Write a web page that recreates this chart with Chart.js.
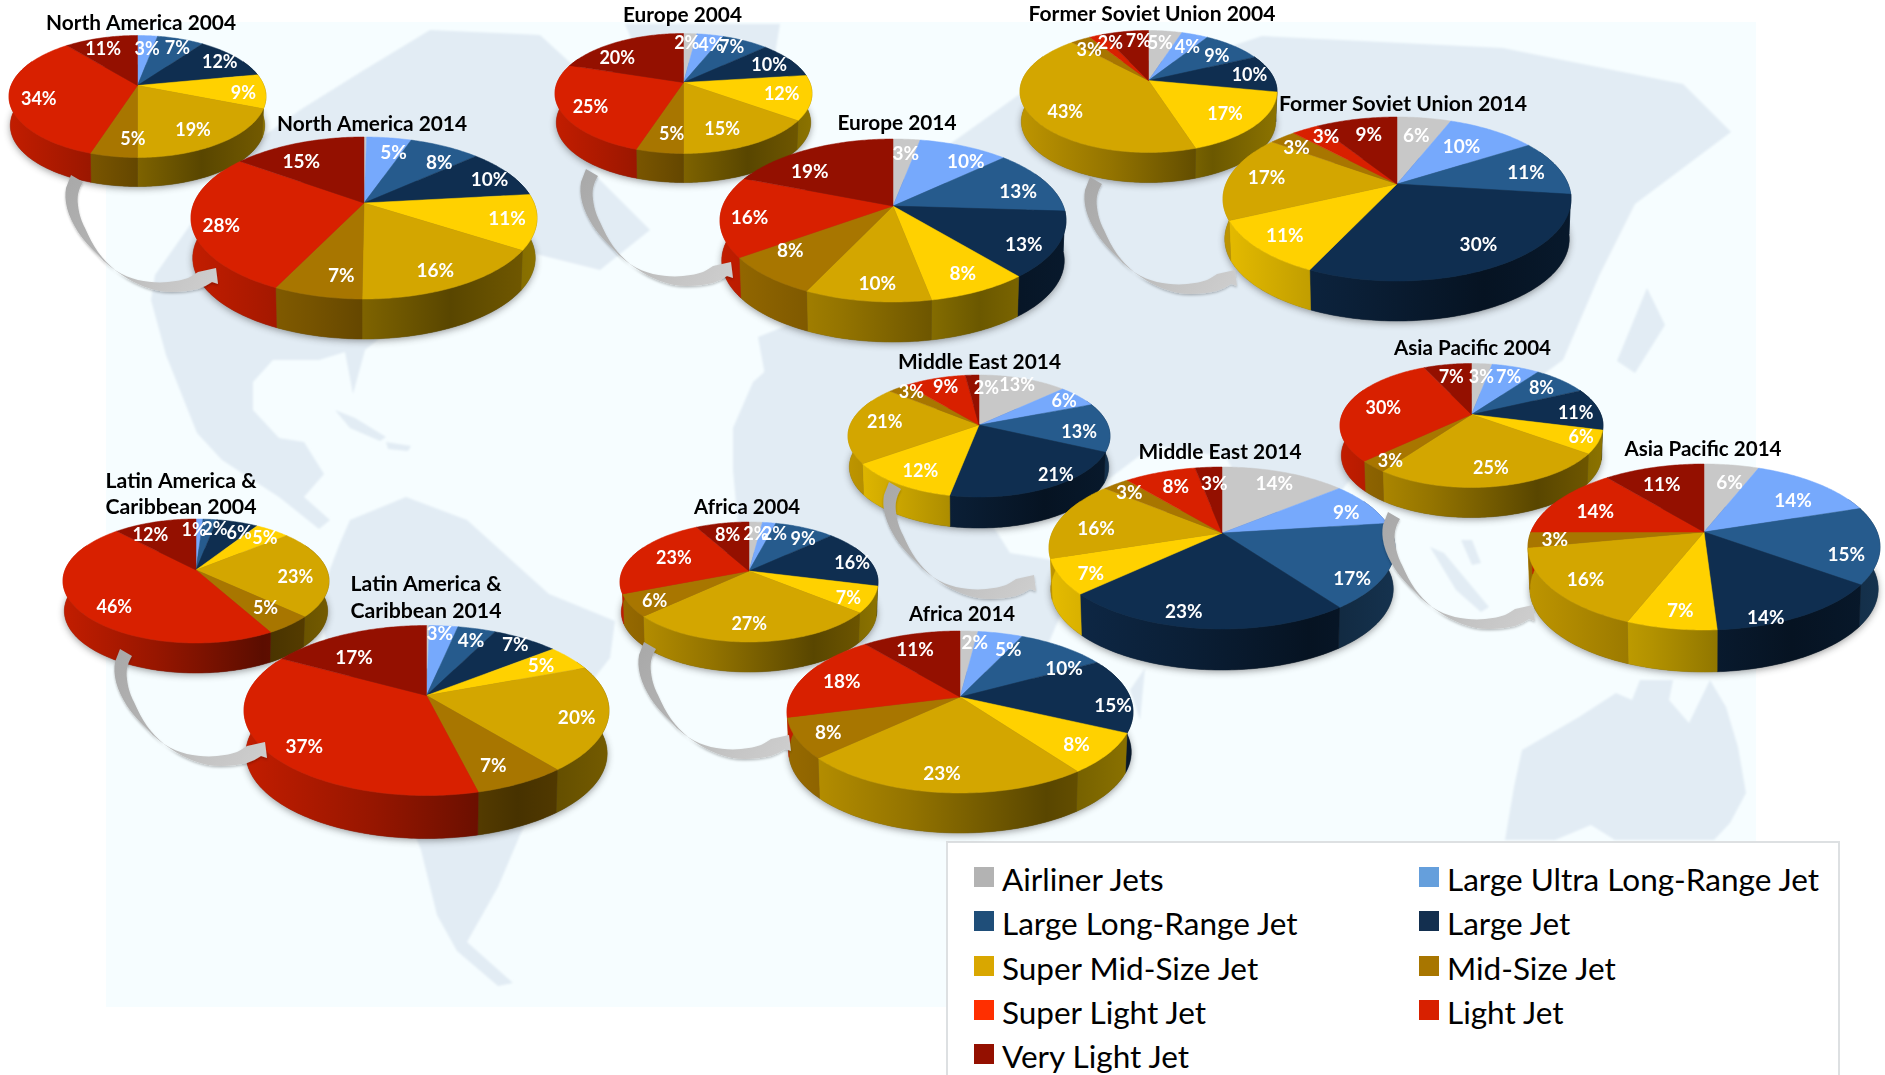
<!DOCTYPE html>
<html><head><meta charset="utf-8">
<style>
html,body{margin:0;padding:0;background:#fff;width:1885px;height:1075px;overflow:hidden;position:relative;font-family:Lato,sans-serif}
canvas,svg{position:absolute}
#legend{position:absolute;left:946px;top:841px;width:894px;height:260px;background:#fff;border:2px solid #dde0e2;box-sizing:border-box}
.li{position:absolute;font-size:31.5px;line-height:32px;color:#000;white-space:nowrap}
.sw{position:absolute;width:20px;height:20px}
</style>
<script src="https://cdn.jsdelivr.net/npm/chart.js@4"></script>
</head><body>
<svg id="map" width="1885" height="1075" style="left:0;top:0">
<defs><filter id="b"><feGaussianBlur stdDeviation="1.2"/></filter></defs>
<rect x="106" y="22" width="1650" height="985" fill="#f6fdff"/>
<g fill="#e2ecf4" filter="url(#b)">
<path d="M151,300 L155,275 L188,228 L230,160 L300,110 L364,70 L430,30 L540,35 L600,90 L640,130 L590,170 L650,230 L600,270 L520,250 L427,300 L365,350 L353,394 L345,352 L319,360 L273,360 L253,382 L253,410 L279,438 L304,442 L324,474 L304,497 L330,520 L319,529 L279,497 L222,460 L197,433 L166,355 Z"/>
<path d="M625,24 L780,24 L770,84 L710,132 L660,108 Z"/>
<path d="M350,520 L406,497 L467,520 L498,548 L549,594 L615,621 L610,658 L585,690 L523,828 L498,887 L467,942 L513,983 L498,986 L457,951 L437,915 L421,850 L386,759 L330,667 L319,598 L340,543 Z"/>
<path d="M335,410 L355,418 L386,437 L380,441 L350,428 Z M386,442 L411,446 L408,451 L388,449 Z"/>
<path d="M733,470 L733,428 L753,382 L799,341 L880,337 L950,457 L1010,553 L1082,565 L1046,649 L1022,745 L974,818 L914,830 L884,745 L866,649 L830,613 L745,601 Z"/>
<path d="M1130,690 L1145,668 L1140,720 Z"/>
<path d="M769,397 L758,337 L818,313 L818,252 L878,180 L950,144 L1034,84 L1154,72 L1262,36 L1503,48 L1683,84 L1731,132 L1635,204 L1599,276 L1563,360 L1479,421 L1491,481 L1443,517 L1407,457 L1359,469 L1310,529 L1274,553 L1226,457 L1154,445 L1106,481 L1046,517 L986,445 L950,409 L866,397 Z"/>
<path d="M1505,840 L1514,787 L1522,750 L1579,717 L1616,693 L1632,700 L1640,680 L1673,680 L1669,700 L1689,723 L1710,680 L1726,707 L1738,747 L1746,793 L1730,823 L1714,840 L1615,840 L1591,825 L1555,840 Z"/>
<path d="M1430,547 L1444,553 L1489,607 L1481,612 L1456,590 Z M1461,540 L1472,540 L1481,563 L1472,565 Z M1550,590 L1600,600 L1660,650 L1600,635 Z M1647,288 L1665,325 L1635,373 L1617,361 Z M757,240 L781,228 L787,276 L763,282 Z"/>
</g>
</svg>
<div id="legend"></div>
<script>
const categories=["Airliner Jets","Large Ultra Long-Range Jet","Large Long-Range Jet","Large Jet","Super Mid-Size Jet","Mid-Size Jet","Super Light Jet","Light Jet","Very Light Jet"];
const sliceColors=["#c8c8c8","#76a9fc","#265b8d","#0f2e50","#ffd100","#d3a600","#a87600","#d82000","#941000"];
const legendColors=["#b3b3b3","#659fdc","#1f4e79","#132f4f","#d9a700","#a87600","#ff2f00","#d82000","#941000"];

const northAmerica2004=[0,3,7,12,9,19,5,34,11];
const northAmerica2014=[0.3,5,8,10,11,16,7,28,15];
const europe2004=[2,4,7,10,12,15,5,25,20];
const europe2014=[3,10,13,13,8,10,8,16,19];
const formerSoviet2004=[5,4,9,10,17,43,3,2,7];
const formerSoviet2014=[6,10,11,30,11,17,3,3,9];
const middleEastA=[13,6,13,21,12,21,3,9,2];
const middleEastB=[14,9,17,23,7,16,3,8,3];
const asiaPacific2004=[3,7,8,11,6,25,3,30,7];
const asiaPacific2014=[6,14,15,14,7,16,3,14,11];
const latinAmerica2004=[0,1,2,6,5,23,5,46,12];
const latinAmerica2014=[0.3,3,4,7,5,20,7,37,17];
const africa2004=[2,2,9,16,7,27,6,23,8];
const africa2014=[2,5,10,15,8,23,8,18,11];

// label placement tweaks, one [dx,dy] per slice
const N={
 na04:[[0,0],[1,1],[3,-2],[1,-3],[1,-1],[-9,-4],[12,-5],[5,0],[-3,0]],
 na14:[[0,0],[7,1],[6,3],[5,-2],[2,-3],[-4,-1],[12,-4],[-2,2],[-6,4]],
 eu04:[[-2,-2],[4,-1],[-3,-4],[-2,-2],[-5,-4],[-13,-5],[6,-6],[5,-2],[-10,5]],
 eu14:[[1,0],[11,2],[0,2],[-2,3],[1,-3],[4,-1],[-2,-13],[-2,0],[-11,8]],
 fs04:[[-2,0],[0,1],[-2,1],[0,-3],[-8,-5],[11,1],[-2,0],[5,-3],[8,-2]],
 fs14:[[-3,3],[-13,3],[-3,-1],[3,-7],[-1,-3],[6,-3],[-4,-1],[5,-4],[5,1]],
 me04:[[1,-4],[2,-3],[-5,1],[18,-3],[5,-4],[9,-4],[0,-5],[3,-2],[11,1]],
 me14:[[0,-2],[3,0],[-5,12],[-19,0],[-1,1],[6,3],[-3,-3],[5,1],[3,2]],
 ap04:[[1,1],[0,-1],[-4,-1],[0,-1],[6,-3],[0,-6],[-2,1],[11,-1],[0,1]],
 ap14:[[2,3],[-4,5],[-1,7],[-14,13],[2,-1],[2,-2],[-5,-2],[10,2],[0,3]],
 la04:[[0,0],[-4,-1],[6,-2],[7,0],[4,-2],[-7,1],[-4,-8],[11,1],[-9,1]],
 la14:[[0,0],[-1,-6],[2,-2],[5,-6],[-4,-2],[2,0],[-7,-3],[5,2],[-5,8]],
 af04:[[1,0],[7,0],[6,0],[5,0],[0,0],[-3,-6],[1,-1],[15,-1],[1,0]],
 af14:[[6,-2],[12,2],[15,8],[12,6],[-2,-1],[-2,-2],[0,-1],[7,0],[-3,1]]
};

// layout: pie centre, half-width, extent above / below centre, rim depth, title, title centre, title width, label size, tweaks
const L=(data,cx,cy,r,T,B,d,title,tx,ty,tw,fs,nudge)=>({data,cx,cy,r,T,B,d,title,tx,ty,tw,fs,nudge});
const groups=[
 [L(northAmerica2004,137.5,85,128.5,50,72,29,["North America 2004"],141,23,190,18,N.na04),
  L(northAmerica2014,364,203,173,66,96,40,["North America 2014"],372,124,190,19,N.na14),[71,175]],
 [L(europe2004,683,82,128.5,49,71,29,["Europe 2004"],682,15,119,18,N.eu04),
  L(europe2014,893,206,173,67,96,40,["Europe 2014"],897,123,119,19,N.eu14),[586,169]],
 [L(formerSoviet2004,1148.5,80,128.5,50,72,30,["Former Soviet Union 2004"],1152,14,247,18,N.fs04),
  L(formerSoviet2014,1397,184,174,67,97,40,["Former Soviet Union 2014"],1403,104,248,19,N.fs14),[1090,177]],
 [L(middleEastA,979,425,131,50,72,31,["Middle East 2014"],979.5,362,163,18,N.me04),
  L(middleEastB,1222,533,173,66,96,41,["Middle East 2014"],1220,452,163,19,N.me14),[889,482]],
 [L(asiaPacific2004,1471,414,131.5,51,73,30,["Asia Pacific 2004"],1472,348,157,18,N.ap04),
  L(asiaPacific2014,1704,532,176,68,98,42,["Asia Pacific 2014"],1703,449,157,19,N.ap14),[1388,512]],
 [L(latinAmerica2004,196,570,133,51,73,30,["Latin America &","Caribbean 2004"],181,481,151,18,N.la04),
  L(latinAmerica2014,426.5,695,182.5,70,100,43,["Latin America &","Caribbean 2014"],426,584,151,19,N.la14),[120,649]],
 [L(africa2004,749,571,129,49,71,30,["Africa 2004"],747,507,106,18,N.af04),
  L(africa2014,960,697,173,66,96,40,["Africa 2014"],962,614,106,19,N.af14),[644,642]]
];

function shade(hex,f){const n=parseInt(hex.slice(1),16);return `rgb(${Math.round((n>>16)*f)},${Math.round(((n>>8)&255)*f)},${Math.round((n&255)*f)})`;}

const pie3d={id:'pie3d',beforeDatasetsDraw(chart,args,o){
 const ctx=chart.ctx,m=o.layout,arcs=chart.getDatasetMeta(0).data;
 const ax=arcs[0].x,ay=arcs[0].y,R0=arcs[0].outerRadius;
 const p=(m.B-m.T)/(m.B+m.T), K=m.B*(1-p), Rx=R0*Math.sqrt(1-p*p);
 const proj=(t,f=1)=>{const u=f*Math.cos(t),v=f*Math.sin(t),w=1-p*v;return [ax+Rx*u/w,ay+K*v/w];};
 const low=(q)=>[ax+(q[0]-ax)*0.99,q[1]+m.d];
 ctx.save();
 ctx.save();ctx.shadowColor='rgba(40,40,40,.45)';ctx.shadowBlur=7;ctx.shadowOffsetY=2;ctx.fillStyle='#555';
 ctx.beginPath();
 for(let i=0;i<=360;i++){const q=low(proj(i*Math.PI/180));i?ctx.lineTo(q[0],q[1]):ctx.moveTo(q[0],q[1]);}
 ctx.closePath();ctx.fill();ctx.restore();
 const a0=-0.45,a1=Math.PI+0.45;
 arcs.forEach((arc,i)=>{
  let s=arc.startAngle,e=arc.endAngle;
  const col=sliceColors[i];
  if(e-s<=0)return;
  [0,2*Math.PI,-2*Math.PI].forEach(shift=>{
   const a=Math.max(s+shift,a0),b=Math.min(e+shift,a1);
   if(b<=a)return;
   const g=ctx.createLinearGradient(ax-R0,0,ax+R0,0);
   [[0,.9],[.35,.7],[.75,.42],[1,.55]].forEach(k=>g.addColorStop(k[0],shade(col,k[1])));
   ctx.fillStyle=g;ctx.strokeStyle=g;ctx.lineWidth=.5;
   ctx.beginPath();
   const n=Math.max(2,Math.ceil((b-a)*60));
   for(let j=0;j<=n;j++){const q=proj(a+(b-a)*j/n);j?ctx.lineTo(q[0],q[1]):ctx.moveTo(q[0],q[1]);}
   for(let j=n;j>=0;j--){const q=low(proj(a+(b-a)*j/n));ctx.lineTo(q[0],q[1]);}
   ctx.closePath();ctx.fill();ctx.stroke();
  });
 });
 arcs.forEach((arc,i)=>{
  const s=arc.startAngle,e=arc.endAngle;
  if(e-s<=0)return;
  ctx.fillStyle=sliceColors[i];ctx.strokeStyle=sliceColors[i];ctx.lineWidth=.5;
  ctx.beginPath();ctx.moveTo(proj(0,0)[0],proj(0,0)[1]);
  const n=Math.max(2,Math.ceil((e-s)*60));
  for(let j=0;j<=n;j++){const q=proj(s+(e-s)*j/n);ctx.lineTo(q[0],q[1]);}
  ctx.closePath();ctx.fill();ctx.stroke();
 });
 ctx.textAlign='center';ctx.textBaseline='middle';
 ctx.fillStyle='#fff';ctx.font=`bold ${m.fs}px Lato, sans-serif`;
 arcs.forEach((arc,i)=>{
  const val=chart.data.datasets[0].data[i];
  if(val<1)return;
  const mid=(arc.startAngle+arc.endAngle)/2;
  const q=proj(mid,.82),n=m.nudge[i];
  ctx.fillText(Math.round(val)+'%',q[0]+n[0]*1.2022,q[1]+4+n[1]*1.2022);
 });
 ctx.restore();
 ctx.fillStyle='#000';ctx.font='bold 21.5px Lato, sans-serif';ctx.textAlign='center';ctx.textBaseline='middle';
 const left=ax-m.cx,top=ay-m.cy;
 m.title.forEach((line,k)=>{
  ctx.fillText(line,m.tx+left,m.ty+top+k*26.5,m.tw);
 });
 return false;
}};

function addPie(m){
 const c=document.createElement('canvas');const pad=10;const size=Math.round(2*(m.r+pad));
 c.width=size;c.height=size;c.style.left=(m.cx-size/2)+'px';c.style.top=(m.cy-size/2)+'px';
 document.body.appendChild(c);
 new Chart(c,{type:'pie',plugins:[pie3d],data:{labels:categories,datasets:[{data:m.data,backgroundColor:sliceColors,borderWidth:0}]},
  options:{responsive:false,animation:false,layout:{padding:size/2-m.r},plugins:{legend:{display:false},tooltip:{enabled:false},pie3d:{layout:m}}}});
}
function addArrow(a){
 const s=document.createElementNS('http://www.w3.org/2000/svg','svg');
 s.setAttribute('width',170);s.setAttribute('height',135);
 s.style.left=(a[0]-12)+'px';s.style.top=(a[1]-6)+'px';
 const id='ag'+a[0];
 s.innerHTML=`<defs><linearGradient id="${id}" gradientUnits="userSpaceOnUse" x1="0" y1="0" x2="150" y2="115"><stop offset="0" stop-color="#a9a9a9"/><stop offset=".4" stop-color="#b4b4b4"/><stop offset=".7" stop-color="#c4c4c4"/><stop offset="1" stop-color="#cfcfcf"/></linearGradient>
 <filter id="${id}s" x="-10%" y="-10%" width="120%" height="120%"><feDropShadow dx="0" dy="1.5" stdDeviation="1.2" flood-opacity=".25"/></filter></defs>
 <path transform="translate(12,6)" filter="url(#${id}s)" fill="url(#${id})" d="M0,0 L12,7 C7,15 6,22 7,30 C8,40 11,47 14,53 C18,62 22,70 27,77 C32,84 38,90 44,95 C52,100 59,103 67,105 C77,107 87,108 97,107 C105,106 112,105 117,103 C121,101 124,99 127,97 L145,93 L147,109 L141,107 C137,110 132,112 127,114 C119,116 110,117 101,117 C91,117 82,115 74,112 C66,109 58,105 51,100 C42,94 34,88 27,80 C19,72 12,65 7,57 C2,49 -2,41 -4,33 C-6,25 -6,19 -5,13 Z"/>`;
 document.body.appendChild(s);
}
groups.forEach(g=>{addPie(g[0]);addPie(g[1]);addArrow(g[2]);});

const leg=document.getElementById('legend');
categories.forEach((n,i)=>{
 const col=i%2,row=(i-col)/2;
 const x=col?473:28,y=24+row*44.3;
 const sw=document.createElement('div');sw.className='sw';sw.style.cssText=`left:${x-2}px;top:${y}px;background:${legendColors[i]}`;
 const t=document.createElement('div');t.className='li';t.textContent=n;t.style.left=(x+26)+'px';t.style.top=(y-4)+'px';
 leg.appendChild(sw);leg.appendChild(t);
});
</script>
</body></html>
